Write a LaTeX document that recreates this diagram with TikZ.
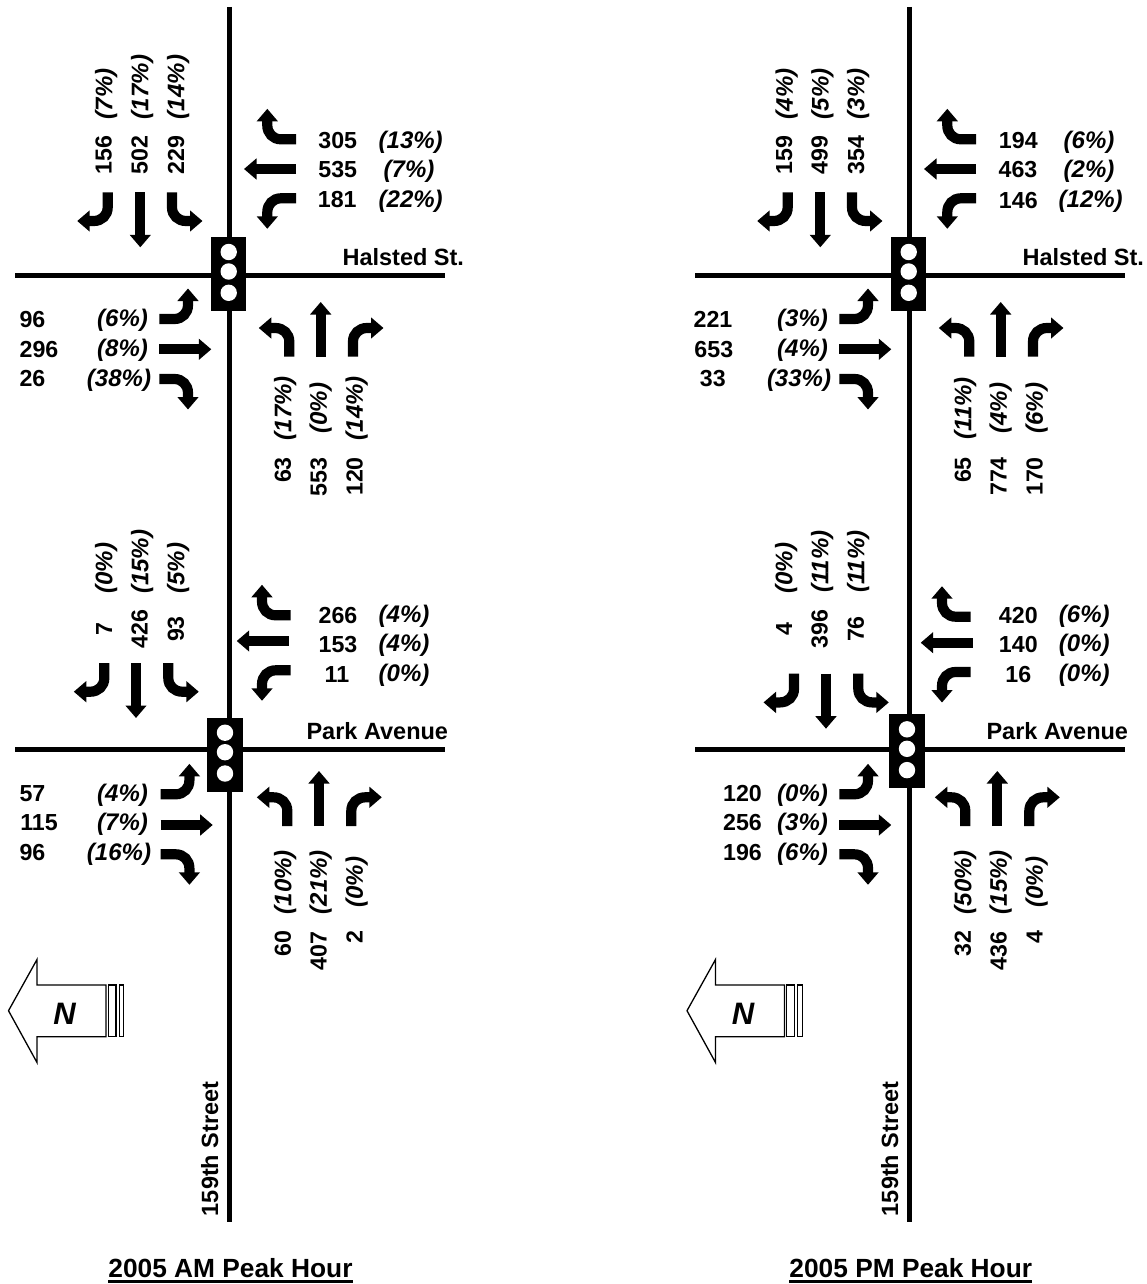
\documentclass[tikz,border=0pt]{standalone}
\usepackage{fontspec}
\setmainfont{Liberation Sans}
\usetikzlibrary{arrows.meta}

\tikzset{
  road/.style={line width=4.8pt},
  lane/.style={line width=10.2pt,-{Triangle[length=12.5pt,width=20.5pt]}},
  cnt/.style={font=\fontsize{23.2}{23}\selectfont\bfseries,inner sep=0pt,text height=16.4pt,text depth=0pt},
  pct/.style={font=\fontsize{24}{24}\selectfont\bfseries\itshape,inner sep=0pt,text height=17.5pt,text depth=5pt},
  streetname/.style={font=\fontsize{23.5}{23}\selectfont\bfseries,inner sep=0pt,text height=16.4pt,text depth=0pt},
  peaktitle/.style={font=\fontsize{26.3}{27}\selectfont\bfseries,inner sep=0pt,text height=19.2pt,text depth=4pt},
  pics/leftturn/.style={code={
    \draw[lane] (0,0) -- (0,-15) .. controls (0,-23) and (-6,-28.7) .. (-14,-28.7) -- (-30.5,-28.7);}},
  pics/rightturn/.style={code={
    \draw[lane] (0,0) -- (0,-15) .. controls (0,-23) and (6,-28.7) .. (14,-28.7) -- (30.5,-28.7);}},
  pics/thru/.style={code={\draw[lane] (0,0) -- (0,-#1);}},
  pics/signal/.style={code={
    \fill (0,0) rectangle (35.3,74);
    \foreach \c in {15,34.5,55.8} \fill[white] (17.7,\c) circle (8.2);}},
  pics/compass/.style={code={
    \draw[line width=1.3pt,fill=white] (8.5,1010.7) -- (37,959.5) -- (37,985) -- (106,985) -- (106,1036.7) -- (37,1036.7) -- (37,1062.5) -- cycle;
    \draw[line width=1.2pt] (108.3,985) rectangle (116,1036.7);
    \draw[line width=1.2pt] (119.3,985) rectangle (123.7,1036.7);
    \node[font=\fontsize{31}{31}\selectfont\bfseries\itshape,inner sep=0pt] (letter) at (64.5,1014) {N};}},
}

\begin{document}
\begin{tikzpicture}[x=1pt,y=-1pt]
\useasboundingbox (0,0) rectangle (1147,1284);

% roads
\foreach \s in {0,680} {
  \draw[road] (229.3+\s,7) -- (229.3+\s,1222);
  \draw[road] (15+\s,275.3) -- (445+\s,275.3);
  \draw[road] (15+\s,749.3) -- (445+\s,749.3);
}

% signals
\pic at (211,237) {signal};
\pic at (891,237) {signal};
\pic at (207.3,717.7) {signal};
\pic at (889.3,714.3) {signal};

% lane arrows
\foreach \x/\y/\r in {289.3/356.7/0, 172/192.3/180, 296/198.3/90, 159.3/319/-90,
    969.3/356.7/0, 852/192.3/180, 976/198.3/90, 839.3/319/-90,
    287.3/826/0, 168.3/663/180, 290.7/670.3/90, 160.7/794.3/-90,
    965.3/826/0, 858.3/673.7/180, 970.7/672/90, 839.3/794.3/-90}
  \pic[rotate=\r] at (\x,\y) {leftturn};
\foreach \x/\y/\r in {353/356.7/0, 107.7/192.3/180, 296/139.3/90, 159.3/379/-90,
    1033/356.7/0, 787.7/192.3/180, 976/139.3/90, 839.3/379/-90,
    351.3/826/0, 104.3/663/180, 290.7/615.3/90, 160.7/854.3/-90,
    1029.3/826/0, 794/673.7/180, 970.7/616.7/90, 839.3/854.3/-90}
  \pic[rotate=\r] at (\x,\y) {rightturn};
\foreach \x/\y/\r/\l in {320.7/356.7/0/54.7, 140.3/192.3/180/55, 296/169/90/52, 159.3/349.3/-90/52,
    1000.7/356.7/0/54.7, 820.3/192.3/180/55, 976/169/90/52, 839.3/349.3/-90/52,
    319/826/0/55, 136/663/180/55, 288.7/641/90/52, 160.7/825/-90/52,
    997.3/826/0/55, 826/673.7/180/55, 972.7/642.7/90/52, 839.3/825/-90/52}
  \pic[rotate=\r] at (\x,\y) {thru=\l};

% volumes
\foreach \x/\y/\r/\t [count=\i] in {
    103.3/155/90/156, 139.3/155/90/502, 176/155/90/229,
    337.7/140/0/305, 337.7/169.7/0/535, 337.3/199.5/0/181,
    32.5/319.5/0/96, 39/349.5/0/296, 32.5/378.7/0/26,
    282.7/470/90/63, 318.3/476.7/90/553, 354.3/476.5/90/120,
    784/155/90/159, 819.3/155/90/499, 856/155/90/354,
    1018.3/140/0/194, 1018/169.7/0/463, 1018.3/200/0/146,
    713/319.5/0/221, 713.8/349.5/0/653, 712.8/378.7/0/33,
    962.7/470/90/65, 998.3/476.5/90/774, 1034.3/476.5/90/170,
    104/629.3/90/7, 139.3/629.3/90/426, 175.7/629/90/93,
    338/615/0/266, 338/644/0/153, 337/674/0/11,
    32.5/793.3/0/57, 39/822.7/0/115, 32.5/852/0/96,
    282.7/943.7/90/60, 318.3/950.7/90/407, 354.3/937.3/90/2,
    784/629.3/90/4, 819.3/629.3/90/396, 855.7/629/90/76,
    1018.3/615/0/420, 1018.3/644/0/140, 1018.3/674/0/16,
    742.5/793.3/0/120, 742.5/822.7/0/256, 742.5/852/0/196,
    962.7/943.7/90/32, 998.3/950.7/90/436, 1034.3/937.3/90/4}
  \node[cnt,rotate=\r] (cnt\i) at (\x,\y) {\t};

% truck shares
\foreach \x/\y/\r/\t [count=\i] in {
    106/94/90/(7\%), 142/87/90/(17\%), 178/87/90/(14\%),
    410.7/142.5/0/(13\%), 409/171.5/0/(7\%), 410.7/201.5/0/(22\%),
    122.5/320/0/(6\%), 122.5/350/0/(8\%), 119/380/0/(38\%),
    285/408.3/90/(17\%), 320.7/408.3/90/(0\%), 356.7/408.3/90/(14\%),
    786.7/94/90/(4\%), 822.3/94/90/(5\%), 858/94/90/(3\%),
    1089/142.5/0/(6\%), 1089/171.5/0/(2\%), 1090.7/201.5/0/(12\%),
    802.5/320/0/(3\%), 802.5/350/0/(4\%), 799/380/0/(33\%),
    965/408.3/90/(11\%), 1000.7/408.3/90/(4\%), 1036.7/408.3/90/(6\%),
    106/568.3/90/(0\%), 142/561.7/90/(15\%), 178/568.3/90/(5\%),
    404/616.7/0/(4\%), 404/645.7/0/(4\%), 404/675/0/(0\%),
    122.5/795/0/(4\%), 122.5/824/0/(7\%), 119/854/0/(16\%),
    285/882.3/90/(10\%), 320.7/882.3/90/(21\%), 356.7/882.3/90/(0\%),
    786/568.3/90/(0\%), 822/561.7/90/(11\%), 858/561.7/90/(11\%),
    1084.3/616.7/0/(6\%), 1084.3/645.7/0/(0\%), 1084.3/675/0/(0\%),
    802.5/795/0/(0\%), 802.5/824/0/(3\%), 802.5/854/0/(6\%),
    965/882.3/90/(50\%), 1000.7/882.3/90/(15\%), 1036.7/882.3/90/(0\%)}
  \node[pct,rotate=\r] (pct\i) at (\x,\y) {\t};

% street names
\node[streetname] (halstedam) at (403.3,257.7) {Halsted St.};
\node[streetname] (halstedpm) at (1083.3,257.7) {Halsted St.};
\node[streetname] (parkam) at (377.3,731.7) {Park Avenue};
\node[streetname] (parkpm) at (1057.3,731.7) {Park Avenue};
\node[streetname,rotate=90] (streetam) at (210,1148.8) {159th Street};
\node[streetname,rotate=90] (streetpm) at (890,1148.8) {159th Street};

% north arrows
\pic (northam) at (0,0) {compass};
\pic (northpm) at (678.5,0) {compass};

% titles
\node[peaktitle] (titleam) at (230.5,1269.7) {2005 AM Peak Hour};
\node[peaktitle] (titlepm) at (910.8,1269.7) {2005 PM Peak Hour};
\draw[line width=2.7pt] (titleam.south west) -- (titleam.south east);
\draw[line width=2.7pt] (titlepm.south west) -- (titlepm.south east);
\end{tikzpicture}
\end{document}
